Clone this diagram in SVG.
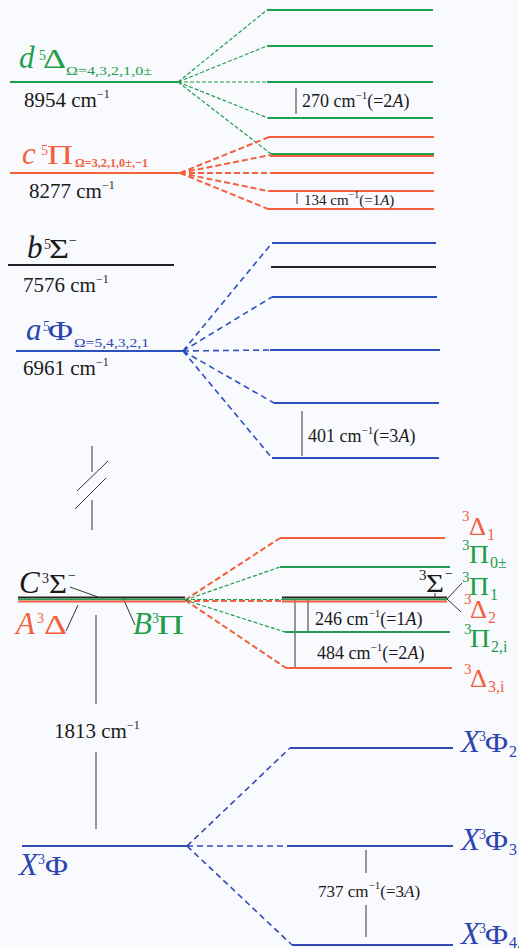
<svg xmlns="http://www.w3.org/2000/svg" width="519" height="949" viewBox="0 0 519 949" font-family="'Liberation Serif','DejaVu Serif','Times New Roman',serif">
<style>
text{font-family:"Liberation Serif","DejaVu Serif","Times New Roman",serif}
.lg{stroke:#1f9e4c;stroke-width:2;fill:none}
.lo{stroke:#f2603f;stroke-width:2;fill:none}
.lb{stroke:#2c50bd;stroke-width:2;fill:none}
.lx{stroke:#3448b4;stroke-width:2;fill:none}
.lk{stroke:#222;stroke-width:2;fill:none}
.dg{stroke:#1f9e4c;stroke-width:1.2;stroke-dasharray:4 2;fill:none}
.do{stroke:#f2603f;stroke-width:2;stroke-dasharray:6 3;fill:none}
.db{stroke:#2c50bd;stroke-width:1.6;stroke-dasharray:6 4;fill:none}
.dx{stroke:#3448b4;stroke-width:1.6;stroke-dasharray:6 4;fill:none}
.thin{stroke:#333;stroke-width:1;fill:none}
.tg{fill:#1f9e4c}.to{fill:#f2603f}.tb{fill:#2c45b0}.tk{fill:#1a1a1a}
.L{font-size:31px;font-style:italic}
.G{font-size:27px}
.s{font-size:14px}
.R{font-size:25px}
.rs{font-size:15px}
.rb{font-size:16px}
.val{font-size:21px;fill:#1a1a1a}
.spl{font-size:18px;fill:#1a1a1a}
</style>
<rect width="519" height="949" fill="#f9fafd"/>

<g id="connectors">
  <path class="dg" d="M178 82 L267 10 M178 82 L267 46 M178 82 L267 82 M178 82 L268 118 M178 82 L271 154"/>
  <path class="do" d="M180 173 L269 137 M180 173 L270 155 M180 173 L270 173 M180 173 L268 191 M180 173 L268 209"/>
  <path class="db" d="M183 351 L272 243 M183 351 L272 297 M183 351 L270 350 M183 351 L274 403 M183 351 L272 458"/>
  <path class="do" d="M185 600 L280 538 M185 601 L282 601 M185 600 L286 668"/>
  <path class="dg" d="M185 600 L280 567 M185 599.5 L282 599.5 M185 600 L285 632"/>
  <path class="dx" d="M187 846 L290 748 M187 846 L287 846 M187 846 L292 945"/>
  <path class="thin" d="M70 587 L98 597 M66 631 L78 605 M123 598 L135 625 M435 593 L435 598 M447 599 L462 583 M447 599 L461 612"/>
  <path class="thin" d="M296 88 L296 114 M297 193 L297 204 M302 411 L302 456 M308 600 L308 632 M295 600 L295 668 M96 615 L96 704 M96 752 L96 829 M366 850 L366 873 M366 905 L366 937"/>
  <path class="thin" stroke-width="1.3" d="M92 446 L92 472 M77 491 L108 461 M75 509 L106 478 M92 500 L92 530"/>
</g>

<g id="d5Delta">
  <line class="lg" x1="10" y1="82" x2="178" y2="82"/>
  <text x="19" y="68" class="L tg">d</text>
  <text x="39" y="60" class="s tg">5</text>
  <text x="43" y="68" class="G tg" textLength="23" lengthAdjust="spacingAndGlyphs">Δ</text>
  <text x="66" y="75" font-size="13" class="tg" textLength="86" lengthAdjust="spacingAndGlyphs">Ω=4,3,2,1,0±</text>
  <text x="24" y="107" class="val">8954 cm<tspan font-size="12" dy="-9">−1</tspan></text>
</g>
<g id="d5Delta-levels">
  <line class="lg" x1="267" y1="10" x2="433" y2="10"/>
  <line class="lg" x1="267" y1="46" x2="433" y2="46"/>
  <line class="lg" x1="267" y1="82" x2="433" y2="82"/>
  <line class="lg" x1="268" y1="118" x2="433" y2="118"/>
  <text x="302" y="107" class="spl">270 cm<tspan font-size="11" dy="-8">−1</tspan><tspan dy="8">(=2</tspan><tspan font-style="italic">A</tspan>)</text>
</g>

<g id="c5Pi">
  <line class="lo" x1="10" y1="173" x2="180" y2="173"/>
  <text x="22" y="164" class="L to">c</text>
  <text x="41" y="155" class="s to">5</text>
  <text x="47" y="164" class="G to" textLength="26" lengthAdjust="spacingAndGlyphs">Π</text>
  <text x="75" y="167" font-size="13" font-weight="bold" class="to" textLength="73" lengthAdjust="spacingAndGlyphs">Ω=3,2,1,0±,−1</text>
  <text x="29" y="198" class="val">8277 cm<tspan font-size="12" dy="-9">−1</tspan></text>
</g>
<g id="c5Pi-levels">
  <line class="lo" x1="269" y1="137" x2="434" y2="137"/>
  <line class="lo" x1="270" y1="156" x2="434" y2="156"/>
  <line class="lg" x1="271" y1="154" x2="434" y2="154"/>
  <line class="lo" x1="270" y1="173" x2="434" y2="173"/>
  <line class="lo" x1="268" y1="191" x2="434" y2="191"/>
  <line class="lo" x1="268" y1="209" x2="434" y2="209"/>
  <text x="304" y="205" font-size="15" fill="#1a1a1a">134 cm<tspan font-size="10" dy="-7">−1</tspan><tspan dy="7">(=1</tspan><tspan font-style="italic">A</tspan>)</text>
</g>

<g id="b5Sigma">
  <line class="lk" x1="8" y1="265" x2="174" y2="265"/>
  <text x="27" y="258" class="L tk">b</text>
  <text x="44" y="249" class="s tk">5</text>
  <text x="49" y="258" class="G tk" textLength="20" lengthAdjust="spacingAndGlyphs">Σ</text>
  <text x="69" y="245" class="s tk">−</text>
  <text x="23" y="292" class="val">7576 cm<tspan font-size="12" dy="-9">−1</tspan></text>
  <line class="lk" x1="271" y1="267" x2="436" y2="267"/>
</g>

<g id="a5Phi">
  <line class="lb" x1="16" y1="351" x2="183" y2="351"/>
  <text x="26" y="340" class="L tb">a</text>
  <text x="43" y="331" class="s tb">5</text>
  <text x="48" y="340" class="G tb" textLength="25" lengthAdjust="spacingAndGlyphs">Φ</text>
  <text x="74" y="347" font-size="13" class="tb" textLength="75" lengthAdjust="spacingAndGlyphs">Ω=5,4,3,2,1</text>
  <text x="23" y="375" class="val">6961 cm<tspan font-size="12" dy="-9">−1</tspan></text>
</g>
<g id="a5Phi-levels">
  <line class="lb" x1="272" y1="243" x2="436" y2="243"/>
  <line class="lb" x1="272" y1="297" x2="437" y2="297"/>
  <line class="lb" x1="270" y1="350" x2="440" y2="350"/>
  <line class="lb" x1="274" y1="403" x2="439" y2="403"/>
  <line class="lb" x1="272" y1="458" x2="439" y2="458"/>
  <text x="308" y="442" class="spl">401 cm<tspan font-size="11" dy="-8">−1</tspan><tspan dy="8">(=3</tspan><tspan font-style="italic">A</tspan>)</text>
</g>

<g id="ABC-states">
  <line class="lk" x1="18" y1="597.5" x2="185" y2="597.5"/>
  <line stroke="#1f9e4c" stroke-width="1.5" x1="18" y1="599.5" x2="185" y2="599.5"/>
  <line class="lo" x1="18" y1="601.5" x2="185" y2="601.5"/>
  <text x="19" y="593" class="L tk" font-size="29">C</text>
  <text x="42" y="583" class="s tk">3</text>
  <text x="49" y="593" class="G tk" textLength="18" lengthAdjust="spacingAndGlyphs">Σ</text>
  <text x="68" y="580" class="s tk">−</text>
  <text x="16" y="634" class="L to" font-size="29">A</text>
  <text x="37" y="623" class="s to">3</text>
  <text x="44" y="634" class="G to" textLength="23" lengthAdjust="spacingAndGlyphs">Δ</text>
  <text x="133" y="634" class="L tg" font-size="29">B</text>
  <text x="152" y="623" class="s tg">3</text>
  <text x="157" y="634" class="G tg" textLength="27" lengthAdjust="spacingAndGlyphs">Π</text>
</g>
<g id="ABC-levels">
  <line class="lo" x1="280" y1="538" x2="445" y2="538"/>
  <line class="lg" x1="280" y1="567" x2="450" y2="567"/>
  <line class="lk" x1="282" y1="597.5" x2="447" y2="597.5"/>
  <line stroke="#1f9e4c" stroke-width="1.5" x1="282" y1="599.5" x2="447" y2="599.5"/>
  <line class="lo" x1="282" y1="601.5" x2="447" y2="601.5"/>
  <line class="lg" x1="285" y1="632" x2="450" y2="632"/>
  <line class="lo" x1="286" y1="668" x2="452" y2="668"/>
  <text x="315" y="625" class="spl">246 cm<tspan font-size="11" dy="-8">−1</tspan><tspan dy="8">(=1</tspan><tspan font-style="italic">A</tspan>)</text>
  <text x="317" y="659" class="spl">484 cm<tspan font-size="11" dy="-8">−1</tspan><tspan dy="8">(=2</tspan><tspan font-style="italic">A</tspan>)</text>
  <text x="419" y="580" class="rs tk">3</text>
  <text x="426" y="592" class="R tk" textLength="18" lengthAdjust="spacingAndGlyphs">Σ</text>
  <text x="445" y="578" class="s tk">−</text>

  <text x="462" y="521" class="rs to">3</text>
  <text x="469" y="535" class="R to" textLength="17" lengthAdjust="spacingAndGlyphs">Δ</text>
  <text x="487" y="540" class="rb to">1</text>

  <text x="462" y="550" class="rs tg">3</text>
  <text x="469" y="563" class="R tg" textLength="20" lengthAdjust="spacingAndGlyphs">Π</text>
  <text x="490" y="568" class="rb tg">0±</text>

  <text x="462" y="582" class="rs tg">3</text>
  <text x="469" y="595" class="R tg" textLength="20" lengthAdjust="spacingAndGlyphs">Π</text>
  <text x="490" y="600" class="rb tg">1</text>

  <text x="464" y="604" class="rs to">3</text>
  <text x="470" y="618" class="R to" textLength="17" lengthAdjust="spacingAndGlyphs">Δ</text>
  <text x="488" y="623" class="rb to">2</text>

  <text x="464" y="634" class="rs tg">3</text>
  <text x="470" y="647" class="R tg" textLength="20" lengthAdjust="spacingAndGlyphs">Π</text>
  <text x="491" y="652" class="rb tg">2,i</text>

  <text x="464" y="674" class="rs to">3</text>
  <text x="470" y="687" class="R to" textLength="17" lengthAdjust="spacingAndGlyphs">Δ</text>
  <text x="488" y="692" class="rb to">3,i</text>
</g>

<g id="gap-1813">
  <text x="54" y="738" class="val">1813 cm<tspan font-size="12" dy="-9">−1</tspan></text>
</g>

<g id="X3Phi">
  <line class="lx" x1="22" y1="846" x2="187" y2="846"/>
  <text x="19" y="875" class="L tb" font-size="28">X</text>
  <text x="38" y="864" class="s tb">3</text>
  <text x="45" y="875" class="G tb" textLength="23" lengthAdjust="spacingAndGlyphs">Φ</text>
</g>
<g id="X3Phi-levels">
  <line class="lx" x1="290" y1="748" x2="453" y2="748"/>
  <line class="lx" x1="287" y1="846" x2="453" y2="846"/>
  <line class="lx" x1="292" y1="945" x2="453" y2="945"/>
  <text x="318" y="897" font-size="17" fill="#1a1a1a">737 cm<tspan font-size="11" dy="-8">−1</tspan><tspan dy="8">(=3</tspan><tspan font-style="italic">A</tspan>)</text>

  <text x="461" y="752" class="L tb" font-size="27">X</text>
  <text x="479" y="741" class="s tb">3</text>
  <text x="485" y="752" class="G tb" textLength="23" lengthAdjust="spacingAndGlyphs">Φ</text>
  <text x="509" y="757" class="rb tb">2</text>

  <text x="461" y="850" class="L tb" font-size="27">X</text>
  <text x="479" y="839" class="s tb">3</text>
  <text x="485" y="850" class="G tb" textLength="23" lengthAdjust="spacingAndGlyphs">Φ</text>
  <text x="509" y="855" class="rb tb">3</text>

  <text x="461" y="944" class="L tb" font-size="27">X</text>
  <text x="479" y="933" class="s tb">3</text>
  <text x="485" y="944" class="G tb" textLength="23" lengthAdjust="spacingAndGlyphs">Φ</text>
  <text x="509" y="948" class="rb tb">4,</text>
</g>
</svg>
